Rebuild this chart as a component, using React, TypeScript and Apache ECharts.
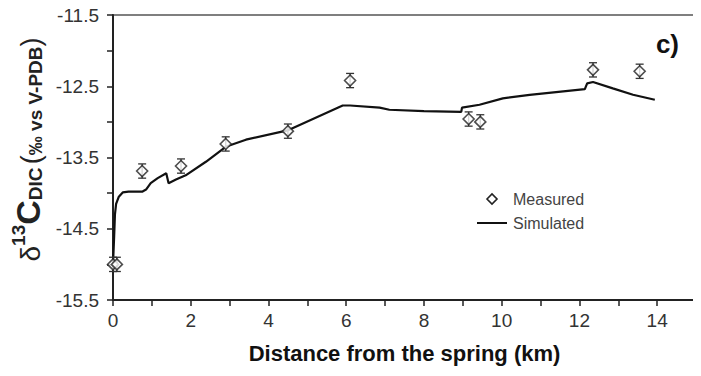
import React, { useEffect, useRef } from "react";
import * as echarts from "echarts";

const measuredX = [0.0, 0.1, 0.75, 1.75, 2.9, 4.5, 6.1, 9.15, 9.45, 12.35, 13.55];
const measuredY = [-15.0, -15.0, -13.69, -13.62, -13.31, -13.13, -12.42, -12.96, -13.0, -12.27, -12.29];
const measuredErr = [0.1, 0.1, 0.1, 0.1, 0.1, 0.1, 0.1, 0.1, 0.1, 0.1, 0.1];

const simX = [0.0, 0.03, 0.05, 0.08, 0.15, 0.25, 0.4, 0.75, 0.85, 0.97, 1.15, 1.37, 1.43, 1.62, 1.87, 2.39, 2.9, 3.42, 4.49, 5.91, 6.1, 6.86, 7.11, 8.0, 8.96, 8.98, 9.43, 10.03, 10.72, 12.14, 12.2, 12.35, 12.86, 13.38, 13.94];
const simY = [-15.0, -14.6, -14.3, -14.15, -14.05, -13.99, -13.98, -13.98, -13.95, -13.86, -13.79, -13.72, -13.86, -13.81, -13.75, -13.56, -13.35, -13.25, -13.12, -12.77, -12.77, -12.8, -12.83, -12.85, -12.86, -12.8, -12.76, -12.67, -12.62, -12.54, -12.46, -12.44, -12.53, -12.62, -12.69];

const xTicks = [0, 2, 4, 6, 8, 10, 12, 14];
const yTicks = [-15.5, -14.5, -13.5, -12.5, -11.5];
const legendNames = ["Measured", "Simulated"];

export default function App() {
  const ref = useRef<HTMLDivElement>(null);
  useEffect(() => {
    if (!ref.current) return;
    const chart = echarts.init(ref.current, null, { renderer: "svg" });
    const font = "Liberation Sans, Arial, sans-serif";
    const measured = measuredX.map((x, i) => [x, measuredY[i]]);
    const errData = measuredX.map((x, i) => [x, measuredY[i], measuredErr[i]]);
    const sim = simX.map((x, i) => [x, simY[i]]);
    const lx = 492;
    const ly = 199;
    const lgap = 24;
    chart.setOption({
      animation: false,
      backgroundColor: "#fff",
      textStyle: { fontFamily: font },
      grid: {
        left: 113,
        right: 5,
        top: 15,
        bottom: 76,
        show: true,
        borderColor: "#555",
        borderWidth: 1.5,
      },
      title: {
        text: "c)",
        right: 17,
        top: 26,
        textStyle: { fontFamily: font, fontSize: 26, fontWeight: "bold", color: "#111" },
      },
      graphic: [
        {
          type: "polygon",
          shape: { points: [[lx - 5, ly], [lx, ly - 5], [lx + 5, ly], [lx, ly + 5]] },
          style: { fill: "#fff", stroke: "#222", lineWidth: 1.6 },
        },
        {
          type: "text",
          x: 513,
          y: ly,
          style: { text: legendNames[0], fontFamily: font, fontSize: 16, fill: "#444", textVerticalAlign: "middle", verticalAlign: "middle" },
        },
        {
          type: "line",
          shape: { x1: 477, y1: ly + lgap, x2: 507, y2: ly + lgap },
          style: { stroke: "#111", lineWidth: 2 },
        },
        {
          type: "text",
          x: 513,
          y: ly + lgap,
          style: { text: legendNames[1], fontFamily: font, fontSize: 16, fill: "#444", textVerticalAlign: "middle", verticalAlign: "middle" },
        },
      ],
      xAxis: {
        type: "value",
        min: 0,
        max: 15,
        interval: 1,
        name: "Distance from the spring (km)",
        nameLocation: "middle",
        nameGap: 42,
        nameTextStyle: { fontFamily: font, fontSize: 22, fontWeight: "bold", color: "#111" },
        axisLine: { onZero: false, lineStyle: { color: "#222", width: 2 } },
        axisTick: { inside: false, length: 6, lineStyle: { color: "#222", width: 1.5 } },
        axisLabel: {
          fontFamily: font,
          fontSize: 19,
          color: "#333",
          margin: 11,
          formatter: (v: number) => (xTicks.includes(v) ? String(v) : ""),
        },
        splitLine: { show: false },
      },
      yAxis: {
        type: "value",
        min: -15.5,
        max: -11.5,
        interval: 0.5,
        name: "{sp| }{d|δ}{s|13}{c|C}{b|DIC} {p|(}{u|‰ vs V-PDB}{p|)}",
        nameLocation: "middle",
        nameGap: 68,
        nameRotate: 90,
        nameTextStyle: {
          color: "#222",
          rich: {
            sp: { fontFamily: font, fontSize: 10, width: 16, lineHeight: 36 },
            d: { fontFamily: font, fontSize: 28, color: "#222", lineHeight: 36, verticalAlign: "bottom" },
            s: { fontFamily: font, fontSize: 19, fontWeight: "bold", color: "#222", lineHeight: 36, verticalAlign: "top" },
            c: { fontFamily: font, fontSize: 34, fontWeight: "bold", color: "#222", lineHeight: 36, verticalAlign: "bottom" },
            b: { fontFamily: font, fontSize: 19, fontWeight: "bold", color: "#222", lineHeight: 36, verticalAlign: "bottom" },
            p: { fontFamily: font, fontSize: 27, color: "#222", lineHeight: 36, verticalAlign: "bottom" },
            u: { fontFamily: font, fontSize: 19, fontWeight: "bold", color: "#222", lineHeight: 36, verticalAlign: "bottom" },
          },
        },
        axisLine: { onZero: false, lineStyle: { color: "#222", width: 2 } },
        axisTick: { inside: false, length: 6, lineStyle: { color: "#222", width: 1.5 } },
        axisLabel: {
          fontFamily: font,
          fontSize: 19,
          color: "#333",
          margin: 14,
          formatter: (v: number) => (yTicks.some((t) => Math.abs(t - v) < 1e-6) ? v.toFixed(1) : ""),
        },
        splitLine: { show: false },
      },
      series: [
        {
          name: "Simulated",
          type: "line",
          data: sim,
          symbol: "none",
          showSymbol: false,
          lineStyle: { color: "#111", width: 2.2 },
          itemStyle: { color: "#111" },
          z: 2,
        },
        {
          name: "errorbars",
          type: "custom",
          data: errData,
          z: 3,
          renderItem: (params: any, api: any) => {
            const x = api.value(0);
            const y = api.value(1);
            const e = api.value(2);
            const top = api.coord([x, y + e]);
            const bot = api.coord([x, y - e]);
            const cap = 4;
            const style = { stroke: "#333", lineWidth: 1.3, fill: "none" };
            return {
              type: "group",
              children: [
                { type: "line", shape: { x1: top[0], y1: top[1], x2: bot[0], y2: bot[1] }, style },
                { type: "line", shape: { x1: top[0] - cap, y1: top[1], x2: top[0] + cap, y2: top[1] }, style },
                { type: "line", shape: { x1: bot[0] - cap, y1: bot[1], x2: bot[0] + cap, y2: bot[1] }, style },
              ],
            };
          },
        },
        {
          name: "Measured",
          type: "scatter",
          data: measured,
          symbol: "diamond",
          symbolSize: 11,
          itemStyle: { color: "#fff", borderColor: "#222", borderWidth: 1.6 },
          z: 4,
        },
      ],
    });
    return () => chart.dispose();
  }, []);
  return <div ref={ref} style={{ width: 701, height: 376, margin: -8 }} />;
}
